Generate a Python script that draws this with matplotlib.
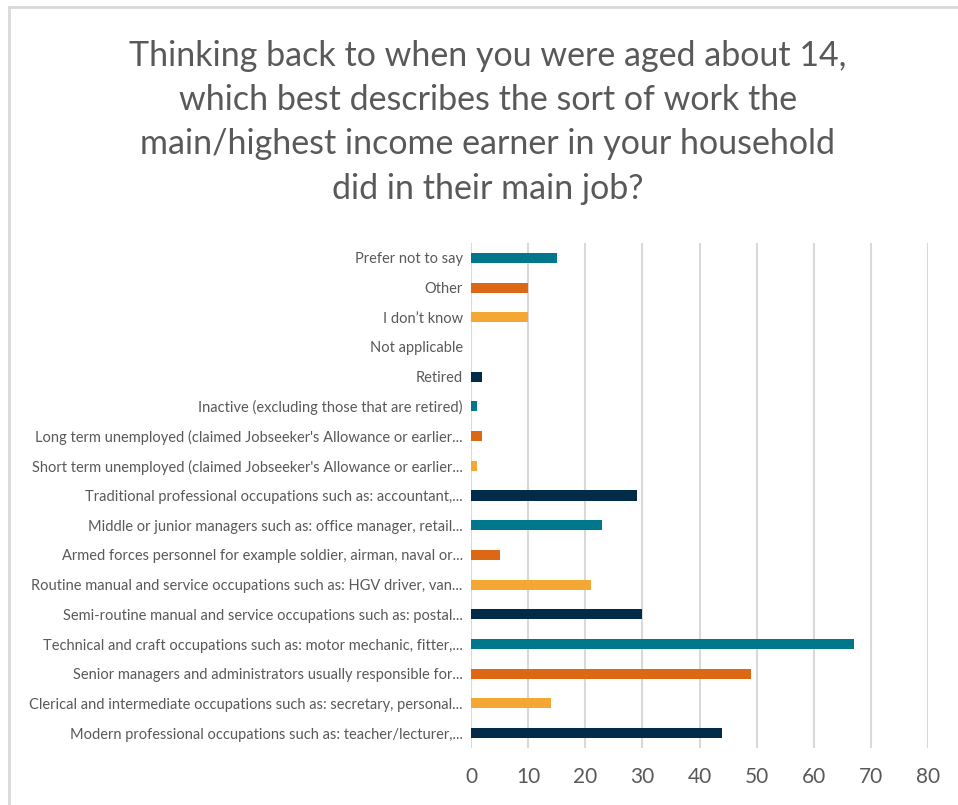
import matplotlib.pyplot as plt
from matplotlib.lines import Line2D

plt.rcParams['font.family'] = ['Lato', 'DejaVu Sans']

# categories listed bottom to top, as they appear on the axis
categories = [
    "Modern professional occupations such as: teacher/lecturer,...",
    "Clerical and intermediate occupations such as: secretary, personal...",
    "Senior managers and administrators usually responsible for...",
    "Technical and craft occupations such as: motor mechanic, fitter,...",
    "Semi-routine manual and service occupations such as: postal...",
    "Routine manual and service occupations such as: HGV driver, van...",
    "Armed forces personnel for example soldier, airman, naval or...",
    "Middle or junior managers such as: office manager, retail...",
    "Traditional professional occupations such as: accountant,...",
    "Short term unemployed (claimed Jobseeker's Allowance or earlier...",
    "Long term unemployed (claimed Jobseeker's Allowance or earlier...",
    "Inactive (excluding those that are retired)",
    "Retired",
    "Not applicable",
    "I don\u2019t know",
    "Other",
    "Prefer not to say",
]
counts = [44, 14, 49, 67, 30, 21, 5, 23, 29, 1, 2, 1, 2, 0, 10, 10, 15]
xticks = [0, 10, 20, 30, 40, 50, 60, 70, 80]

NAVY, LT_ORANGE, DK_ORANGE, TEAL = '#002b49', '#f5a733', '#dc6714', '#00778b'
colors = [NAVY, LT_ORANGE, DK_ORANGE, TEAL,
          NAVY, LT_ORANGE, DK_ORANGE, TEAL,
          NAVY, LT_ORANGE, DK_ORANGE, TEAL,
          NAVY, NAVY, LT_ORANGE, DK_ORANGE, TEAL]

TXT = '#595959'
GRID = '#d9d9d9'

fig = plt.figure(figsize=(9.58, 8.05), dpi=100, facecolor='white')
ax = fig.add_axes([0.4917, 0.0708, 0.477, 0.6273])

ax.barh(range(len(counts)), counts, height=0.34, color=colors, zorder=3)

ax.set_xlim(0, 80)
ax.set_ylim(-0.5, len(counts) - 0.5)
ax.set_xticks(xticks)
ax.set_yticks(range(len(categories)))
ax.set_yticklabels(categories)
ax.grid(axis='x', color=GRID, lw=1.5, zorder=0)
for s in ax.spines.values():
    s.set_visible(False)
ax.tick_params(axis='x', length=0, labelsize=15, labelcolor=TXT, pad=14)
ax.tick_params(axis='y', length=0, labelsize=10.5, labelcolor=TXT, pad=6)

fig.text(0.509, 0.848,
         'Thinking back to when you were aged about 14,\n'
         'which best describes the sort of work the\n'
         'main/highest income earner in your household\n'
         'did in their main job?',
         ha='center', va='center', fontsize=24.5, color=TXT, linespacing=1.47)

# chart area frame (top and left edges)
fig.add_artist(Line2D([8.5 / 958, 1.0], [1 - 7.5 / 805, 1 - 7.5 / 805],
                      color=GRID, lw=2, transform=fig.transFigure))
fig.add_artist(Line2D([8.5 / 958, 8.5 / 958], [0, 1 - 7.5 / 805],
                      color=GRID, lw=2, transform=fig.transFigure))

fig.savefig('out.png', dpi=100, facecolor='white')
